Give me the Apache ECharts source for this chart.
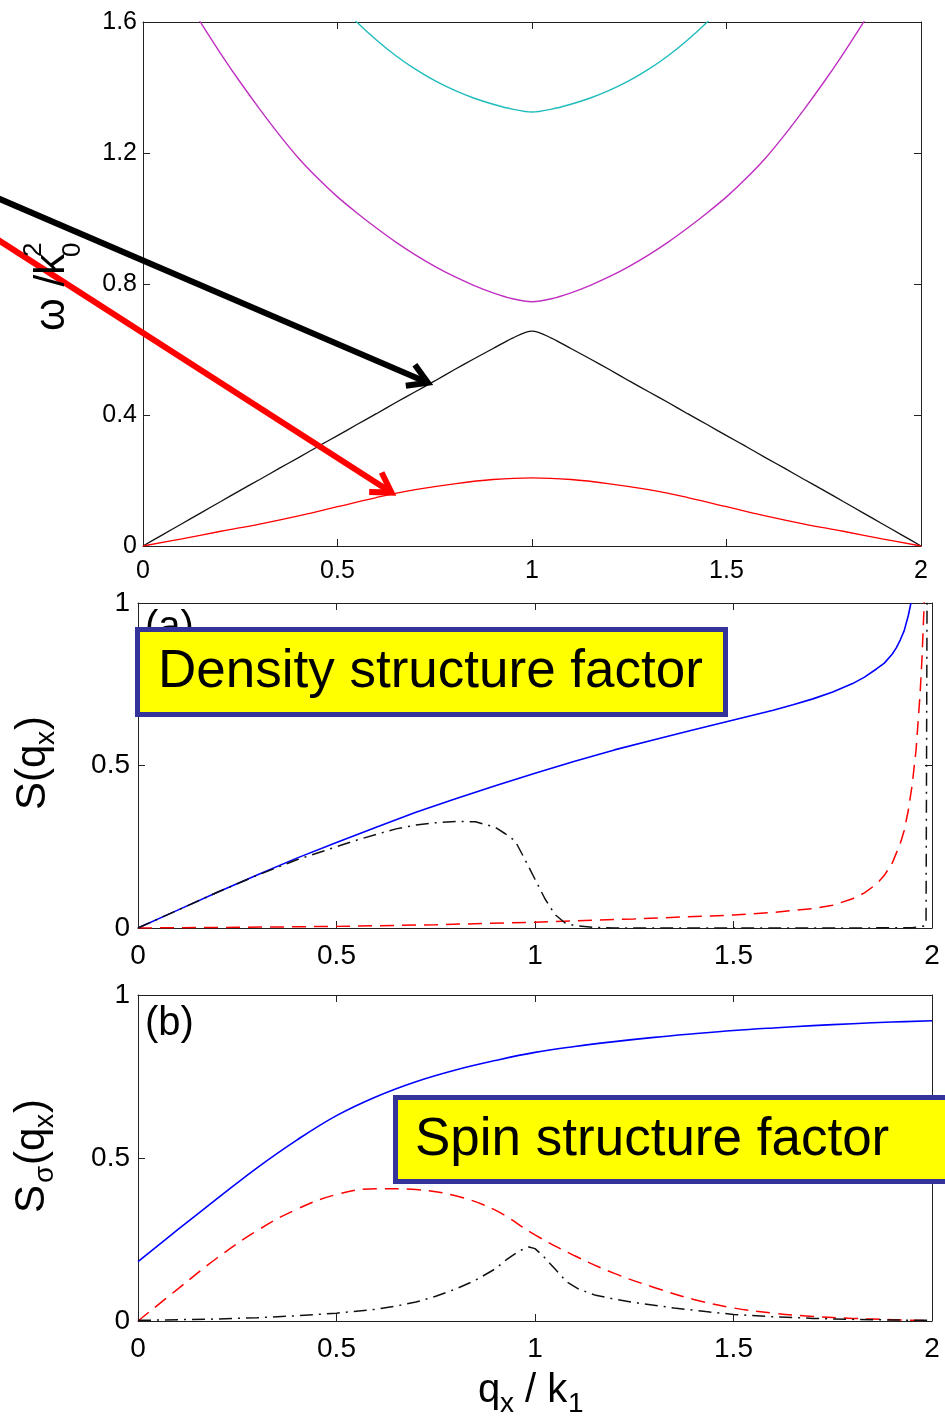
<!DOCTYPE html>
<html>
<head>
<meta charset="utf-8">
<script src="https://cdn.jsdelivr.net/npm/echarts@6/dist/echarts.min.js"></script>
<style>
  html, body { margin: 0; padding: 0; background: #fff; }
  #chart { width: 945px; height: 1420px; }
</style>
</head>
<body>
<div id="chart"></div>
<script>
// ---------- excitation spectrum omega / k0^2 versus q_x / k1 ----------
const acousticQ = [0, 0.05, 0.1, 0.15, 0.2, 0.25, 0.3, 0.35, 0.4, 0.45, 0.5, 0.55, 0.6, 0.65, 0.7, 0.75, 0.8, 0.85, 0.9, 0.95, 1.0,
                   1.05, 1.1, 1.15, 1.2, 1.25, 1.3, 1.35, 1.4, 1.45, 1.5, 1.55, 1.6, 1.65, 1.7, 1.75, 1.8, 1.85, 1.9, 1.95, 2.0];
const acousticW = [0, 0.034, 0.068, 0.102, 0.136, 0.17, 0.203, 0.237, 0.27, 0.304, 0.337, 0.371, 0.404, 0.438, 0.471, 0.504, 0.538, 0.571, 0.603, 0.635, 0.656,
                   0.635, 0.603, 0.571, 0.538, 0.504, 0.471, 0.438, 0.404, 0.371, 0.337, 0.304, 0.27, 0.237, 0.203, 0.17, 0.136, 0.102, 0.068, 0.034, 0];

const softQ = [0, 0.1, 0.2, 0.3, 0.4, 0.5, 0.6, 0.7, 0.8, 0.9, 1.0, 1.1, 1.2, 1.3, 1.4, 1.5, 1.6, 1.7, 1.8, 1.9, 2.0];
const softW = [0, 0.022, 0.045, 0.067, 0.092, 0.12, 0.148, 0.172, 0.19, 0.203, 0.208, 0.203, 0.19, 0.172, 0.148, 0.12, 0.092, 0.067, 0.045, 0.022, 0];

const thirdQ = [0.1, 0.15, 0.2, 0.25, 0.3, 0.35, 0.4, 0.45, 0.5, 0.55, 0.6, 0.65, 0.7, 0.75, 0.8, 0.85, 0.9, 0.95, 1.0,
                1.05, 1.1, 1.15, 1.2, 1.25, 1.3, 1.35, 1.4, 1.45, 1.5, 1.55, 1.6, 1.65, 1.7, 1.75, 1.8, 1.85, 1.9];
const thirdW = [1.69, 1.595, 1.503, 1.416, 1.334, 1.256, 1.184, 1.122, 1.066, 1.017, 0.971, 0.928, 0.889, 0.854, 0.823, 0.796, 0.773, 0.755, 0.746,
                0.755, 0.773, 0.796, 0.823, 0.854, 0.889, 0.928, 0.971, 1.017, 1.066, 1.122, 1.184, 1.256, 1.334, 1.416, 1.503, 1.595, 1.69];

const fourthQ = [0.5, 0.55, 0.6, 0.65, 0.7, 0.75, 0.8, 0.85, 0.9, 0.95, 1.0, 1.05, 1.1, 1.15, 1.2, 1.25, 1.3, 1.35, 1.4, 1.45, 1.5];
const fourthW = [1.66, 1.599, 1.545, 1.497, 1.456, 1.421, 1.392, 1.368, 1.349, 1.334, 1.325, 1.334, 1.349, 1.368, 1.392, 1.421, 1.456, 1.497, 1.545, 1.599, 1.66];

// ---------- (a) density structure factor ----------
const densTotalQ = [0, 0.1, 0.2, 0.3, 0.4, 0.5, 0.6, 0.7, 0.8, 0.9, 1.0, 1.1, 1.2, 1.3, 1.4, 1.5, 1.6, 1.65, 1.7, 1.75, 1.8, 1.83, 1.86, 1.88, 1.9, 1.91, 1.92, 1.93, 1.94, 1.947];
const densTotalS = [0, 0.055, 0.11, 0.163, 0.215, 0.263, 0.31, 0.356, 0.398, 0.438, 0.476, 0.513, 0.548, 0.579, 0.61, 0.64, 0.67, 0.687, 0.705, 0.726, 0.752, 0.772, 0.797, 0.815, 0.843, 0.862, 0.886, 0.915, 0.96, 1.0];

const densLowQ = [0, 0.1, 0.2, 0.3, 0.4, 0.5, 0.55, 0.6, 0.65, 0.7, 0.75, 0.8, 0.85, 0.9, 0.925, 0.95, 0.975, 1.0, 1.025, 1.05, 1.075, 1.1, 1.15, 1.2, 1.5, 1.8, 1.95, 1.98, 1.985, 1.988];
const densLowS = [0, 0.055, 0.11, 0.162, 0.21, 0.25, 0.27, 0.288, 0.305, 0.317, 0.324, 0.328, 0.327, 0.31, 0.29, 0.268, 0.21, 0.15, 0.09, 0.042, 0.016, 0.007, 0.002, 0, 0, 0, 0.001, 0.006, 0.015, 1.2];

const densHighQ = [0, 0.25, 0.5, 0.75, 1.0, 1.25, 1.5, 1.6, 1.7, 1.75, 1.8, 1.83, 1.86, 1.88, 1.9, 1.92, 1.93, 1.94, 1.95, 1.96, 1.97, 1.975, 1.981];
const densHighS = [0, 0.002, 0.005, 0.01, 0.018, 0.028, 0.04, 0.048, 0.06, 0.07, 0.09, 0.108, 0.135, 0.162, 0.2, 0.26, 0.3, 0.36, 0.44, 0.55, 0.72, 0.835, 1.02];

// ---------- (b) spin structure factor ----------
const spinTotalQ = [0, 0.1, 0.2, 0.3, 0.4, 0.5, 0.6, 0.7, 0.8, 0.9, 1.0, 1.1, 1.2, 1.3, 1.4, 1.5, 1.6, 1.7, 1.8, 1.9, 2.0];
const spinTotalS = [0.182, 0.28, 0.376, 0.47, 0.555, 0.63, 0.688, 0.734, 0.77, 0.799, 0.824, 0.842, 0.857, 0.87, 0.881, 0.891, 0.899, 0.906, 0.912, 0.917, 0.921];

const spinHighQ = [0, 0.1, 0.2, 0.3, 0.4, 0.5, 0.6, 0.7, 0.8, 0.9, 1.0, 1.1, 1.2, 1.3, 1.4, 1.5, 1.6, 1.7, 1.8, 1.9, 2.0];
const spinHighS = [0, 0.098, 0.194, 0.277, 0.343, 0.388, 0.406, 0.403, 0.384, 0.34, 0.264, 0.2, 0.146, 0.103, 0.066, 0.04, 0.024, 0.014, 0.008, 0.004, 0.001];

const spinLowQ = [0, 0.1, 0.2, 0.3, 0.4, 0.5, 0.6, 0.65, 0.7, 0.75, 0.8, 0.85, 0.9, 0.93, 0.96, 0.985, 1.0, 1.02, 1.05, 1.08, 1.11, 1.15, 1.2, 1.27, 1.35, 1.43, 1.5, 1.6, 1.7, 1.8, 1.9, 2.0];
const spinLowS = [0.002, 0.004, 0.006, 0.01, 0.016, 0.024, 0.036, 0.046, 0.058, 0.076, 0.098, 0.125, 0.16, 0.19, 0.215, 0.227, 0.222, 0.2, 0.16, 0.12, 0.098, 0.08, 0.067, 0.053, 0.04, 0.029, 0.02, 0.013, 0.008, 0.005, 0.003, 0.002];

// ---------- axes ----------
const qTicks = [0, 0.5, 1, 1.5, 2];
const omegaTicks = [0, 0.4, 0.8, 1.2, 1.6];
const sTicks = [0, 0.5, 1];

// arrows pointing at the two lowest branches: tail and head in (q, omega)
const arrowTails = [[-0.381, 1.066], [-0.381, 0.941]];
const arrowHeads = [[0.737, 0.496], [0.643, 0.16]];
const arrowColors = ['#000000', '#ff0000'];

const FONT = '"Liberation Sans", Arial, Helvetica, sans-serif';
const pairs = (xs, ys) => xs.map((x, i) => [x, ys[i]]);

const chart = echarts.init(document.getElementById('chart'), null, { renderer: 'canvas' });

const grids = [
  { left: 143, top: 22, width: 778, height: 524 },
  { left: 138, top: 603, width: 794, height: 325 },
  { left: 138, top: 995, width: 794, height: 326 }
];

function xAxes(g, labelSize, margin) {
  const common = {
    type: 'value', gridIndex: g, min: qTicks[0], max: qTicks[qTicks.length - 1],
    interval: qTicks[1] - qTicks[0],
    splitLine: { show: false },
    axisLine: { show: true, onZero: false, lineStyle: { color: '#222', width: 1 } },
    axisTick: { show: true, inside: true, length: 7, lineStyle: { color: '#222', width: 1 } }
  };
  return [
    Object.assign({}, common, {
      position: 'bottom',
      axisLabel: { show: true, color: '#000', fontSize: labelSize, fontFamily: FONT, margin: margin,
                   showMinLabel: true, showMaxLabel: true }
    }),
    Object.assign({}, common, { position: 'top', axisLabel: { show: false } })
  ];
}

function yAxes(g, ticks, labelSize, margin) {
  const common = {
    type: 'value', gridIndex: g, min: ticks[0], max: ticks[ticks.length - 1],
    interval: ticks[1] - ticks[0],
    splitLine: { show: false },
    axisLine: { show: true, onZero: false, lineStyle: { color: '#222', width: 1 } },
    axisTick: { show: true, inside: true, length: 7, lineStyle: { color: '#222', width: 1 } }
  };
  return [
    Object.assign({}, common, {
      position: 'left',
      axisLabel: { show: true, color: '#000', fontSize: labelSize, fontFamily: FONT, margin: margin,
                   showMinLabel: true, showMaxLabel: true }
    }),
    Object.assign({}, common, { position: 'right', axisLabel: { show: false } })
  ];
}

function line(name, xs, ys, axis, color, opts) {
  opts = opts || {};
  return {
    name: name, type: 'line', xAxisIndex: axis, yAxisIndex: axis,
    data: pairs(xs, ys), showSymbol: false, symbol: 'none',
    clip: true, silent: true, animation: false,
    smooth: opts.smooth || false,
    lineStyle: { color: color, width: opts.width || 1.5, type: opts.dash || 'solid' },
    z: 3
  };
}

const DASH = [14, 8];
const DASHDOT = [13, 6, 2, 6];

chart.setOption({
  animation: false,
  backgroundColor: '#ffffff',
  grid: grids,
  xAxis: [].concat(xAxes(0, 25, 13), xAxes(1, 28, 14), xAxes(2, 28, 14)),
  yAxis: [].concat(yAxes(0, omegaTicks, 25, 6), yAxes(1, sTicks, 28, 8), yAxes(2, sTicks, 28, 8)),
  series: [
    line('fourth', fourthQ, fourthW, 0, '#20bcbc', { smooth: 0.3, width: 1.4 }),
    line('third', thirdQ, thirdW, 0, '#bf2fc0', { smooth: 0.3, width: 1.4 }),
    line('acoustic', acousticQ, acousticW, 0, '#111111', { smooth: 0.3, width: 1.3 }),
    line('soft', softQ, softW, 0, '#ff0000', { smooth: 0.4, width: 1.3 }),

    line('S total', densTotalQ, densTotalS, 2, '#0000ff', { width: 1.6 }),
    line('S high', densHighQ, densHighS, 2, '#ff0000', { width: 1.5, dash: DASH }),
    line('S low', densLowQ, densLowS, 2, '#111111', { width: 1.5, dash: DASHDOT }),

    line('Ss total', spinTotalQ, spinTotalS, 4, '#0000ff', { smooth: 0.4, width: 1.6 }),
    line('Ss high', spinHighQ, spinHighS, 4, '#ff0000', { smooth: 0.4, width: 1.5, dash: DASH }),
    line('Ss low', spinLowQ, spinLowS, 4, '#111111', { width: 1.5, dash: DASHDOT })
  ]
});

// ---------- annotations ----------
function txt(text, x, y, size, opts) {
  opts = opts || {};
  return {
    type: 'text', x: x, y: y, z: opts.z || 50, silent: true,
    style: {
      text: text, fill: opts.fill || '#000',
      font: size + 'px ' + FONT,
      textAlign: opts.align || 'left', align: opts.align || 'left',
      textVerticalAlign: 'middle', verticalAlign: 'middle'
    }
  };
}

// text placed with its baseline at local y = b
function base(text, x, b, size, opts) {
  return txt(text, x, b - 0.35 * size, size, opts);
}

function arrow(tail, head, color) {
  const p0 = chart.convertToPixel({ xAxisIndex: 0, yAxisIndex: 0 }, tail);
  const p1 = chart.convertToPixel({ xAxisIndex: 0, yAxisIndex: 0 }, head);
  const ang = Math.atan2(p1[1] - p0[1], p1[0] - p0[0]);
  const L = 24, spread = 0.5;
  const a1 = [p1[0] - L * Math.cos(ang - spread), p1[1] - L * Math.sin(ang - spread)];
  const a2 = [p1[0] - L * Math.cos(ang + spread), p1[1] - L * Math.sin(ang + spread)];
  const tip = [p1[0] - 2 * Math.cos(ang), p1[1] - 2 * Math.sin(ang)];
  return [
    { type: 'polyline', z: 40, silent: true, shape: { points: [p0, tip] },
      style: { stroke: color, lineWidth: 6, fill: null } },
    { type: 'polyline', z: 40, silent: true, shape: { points: [a1, tip, a2] },
      style: { stroke: color, lineWidth: 6, fill: null, lineJoin: 'miter', lineCap: 'butt' } }
  ];
}

const graphics = [];
arrowTails.forEach((t, i) => { graphics.push.apply(graphics, arrow(t, arrowHeads[i], arrowColors[i])); });

// axis titles (rotated), built from pieces for sub/superscripts
graphics.push({
  type: 'group', x: 67, y: 331, rotation: Math.PI / 2, silent: true,
  children: [
    base('\u03c9 /k', 0, 0, 42),
    base('2', 74, -24, 26),
    base('0', 74, 15, 26)
  ]
});
graphics.push({
  type: 'group', x: 48, y: 810, rotation: Math.PI / 2, silent: true,
  children: [
    base('S(q', 0, 0, 42),
    base('x', 65, 8, 28),
    base(')', 80, 0, 42)
  ]
});
graphics.push({
  type: 'group', x: 47, y: 1213, rotation: Math.PI / 2, silent: true,
  children: [
    base('S', 0, 0, 42),
    base('\u03c3', 30, 8, 28),
    base('(q', 48, 0, 42),
    base('x', 85, 8, 28),
    base(')', 100, 0, 42)
  ]
});
// bottom x title
graphics.push({
  type: 'group', x: 478, y: 1405, silent: true,
  children: [
    base('q', 0, 0, 40),
    base('x', 22, 9, 28),
    base(' / k', 36, 0, 40),
    base('1', 90, 9, 28)
  ]
});

// panel tags
graphics.push(base('(a)', 145, 642, 40, { z: 30 }));
graphics.push(base('(b)', 145, 1038, 40, { z: 30 }));

// highlighted captions
graphics.push({
  type: 'rect', z: 90, silent: true,
  shape: { x: 137.5, y: 629.5, width: 588, height: 85 },
  style: { fill: '#ffff00', stroke: '#333399', lineWidth: 5 }
});
graphics.push(txt('Density structure factor', 158, 672, 53, { z: 91 }));
graphics.push({
  type: 'rect', z: 90, silent: true,
  shape: { x: 395.5, y: 1097.5, width: 560, height: 84 },
  style: { fill: '#ffff00', stroke: '#333399', lineWidth: 5 }
});
graphics.push(txt('Spin structure factor', 415, 1140, 53, { z: 91 }));

chart.setOption({ graphic: graphics });
</script>
</body>
</html>
